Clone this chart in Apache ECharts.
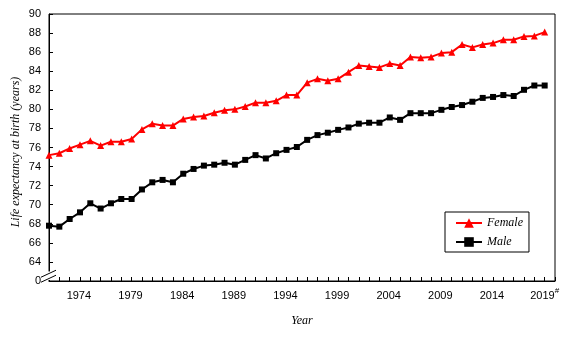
<!DOCTYPE html>
<html>
<head>
<meta charset="utf-8">
<script src="https://cdn.jsdelivr.net/npm/echarts@6/dist/echarts.min.js"></script>
<style>
  html, body { margin: 0; padding: 0; background: #fff; }
  #chart { width: 575px; height: 337px; }
</style>
</head>
<body>
<div id="chart"></div>
<script>
// Life expectancy at birth, 1971-2019
const years = [];
for (let y = 1971; y <= 2019; y++) years.push(y);

const female = [
  75.2, 75.4, 75.9, 76.3, 76.7, 76.2, 76.6, 76.6, 76.9, 77.9,
  78.5, 78.3, 78.3, 79.0, 79.2, 79.3, 79.65, 79.9, 80.0, 80.3,
  80.7, 80.7, 80.9, 81.5, 81.5, 82.8, 83.2, 83.0, 83.2, 83.9,
  84.6, 84.5, 84.4, 84.8, 84.6, 85.5, 85.4, 85.5, 85.9, 86.0,
  86.8, 86.5, 86.8, 86.95, 87.3, 87.3, 87.65, 87.7, 88.1
];
const male = [
  67.8, 67.7, 68.5, 69.2, 70.15, 69.6, 70.15, 70.6, 70.6, 71.6,
  72.35, 72.6, 72.35, 73.25, 73.75, 74.1, 74.2, 74.4, 74.2, 74.7,
  75.2, 74.85, 75.4, 75.75, 76.05, 76.8, 77.3, 77.55, 77.85, 78.1,
  78.5, 78.6, 78.6, 79.15, 78.9, 79.6, 79.6, 79.6, 79.95, 80.25,
  80.45, 80.8, 81.2, 81.3, 81.5, 81.4, 82.05, 82.5, 82.5
];
const xLabelYears = [1974, 1979, 1984, 1989, 1994, 1999, 2004, 2009, 2014, 2019];
const seriesNames = ['Female', 'Male'];

const pair = arr => years.map((y, i) => [y, arr[i]]);

const labelFont = 'Liberation Sans, Arial, sans-serif';
const serifFont = 'Liberation Serif, Times New Roman, serif';

const chart = echarts.init(document.getElementById('chart'), null, { renderer: 'canvas' });

const option = {
  animation: false,
  backgroundColor: '#fff',
  grid: {
    left: 49, right: 20, top: 14, bottom: 56,
    show: true, borderColor: '#000', borderWidth: 1, backgroundColor: 'transparent'
  },
  legend: {
    data: seriesNames,
    orient: 'vertical',
    left: 445, top: 212,
    padding: [5, 6, 4, 10],
    itemGap: 7,
    itemWidth: 26, itemHeight: 12,
    borderColor: '#000', borderWidth: 1,
    backgroundColor: '#fff',
    textStyle: { fontFamily: serifFont, fontStyle: 'italic', fontSize: 12, color: '#000' }
  },
  xAxis: {
    type: 'value',
    min: 1971, max: 2020, interval: 1,
    name: 'Year',
    nameLocation: 'middle',
    nameGap: 34,
    nameTextStyle: { fontFamily: serifFont, fontStyle: 'italic', fontSize: 12, color: '#000' },
    splitLine: { show: false },
    axisLine: { lineStyle: { color: '#000', width: 1 } },
    axisTick: { inside: true, length: 4, lineStyle: { color: '#000' } },
    axisLabel: {
      margin: 6,
      fontFamily: labelFont, fontSize: 11, color: '#000',
      showMinLabel: true, showMaxLabel: true,
      formatter: v => {
        if (xLabelYears.indexOf(v) < 0) return '';
        return v === 2019 ? '{n|' + v + '}{s|#}' : '{n|' + v + '}{s| }';
      },
      rich: {
        n: { fontSize: 11, fontFamily: labelFont, color: '#000', lineHeight: 14, verticalAlign: 'bottom' },
        s: { fontSize: 8, fontFamily: labelFont, color: '#000', lineHeight: 14, verticalAlign: 'top' }
      }
    }
  },
  yAxis: {
    type: 'value',
    min: 62, max: 90, interval: 2,
    splitLine: { show: false },
    axisLine: { lineStyle: { color: '#000', width: 1 } },
    axisTick: { inside: true, length: 4, lineStyle: { color: '#000' } },
    axisLabel: {
      margin: 8,
      fontFamily: labelFont, fontSize: 11, color: '#000',
      formatter: v => (v === 62 ? '0' : String(v))
    }
  },
  series: [
    {
      name: seriesNames[0], type: 'line', data: pair(female),
      symbol: 'triangle', symbolSize: 7,
      itemStyle: { color: '#ff0000' },
      lineStyle: { color: '#ff0000', width: 2 },
      z: 3
    },
    {
      name: seriesNames[1], type: 'line', data: pair(male),
      symbol: 'rect', symbolSize: 6,
      itemStyle: { color: '#000' },
      lineStyle: { color: '#000', width: 2 },
      z: 2
    }
  ]
};
chart.setOption(option);

// Axis break on the value axis between 0 and 64
const xL = chart.convertToPixel({ xAxisIndex: 0 }, 1971);
const yTop = chart.convertToPixel({ yAxisIndex: 0 }, 63.0);
const yBot = chart.convertToPixel({ yAxisIndex: 0 }, 62.0);
const mid = (yTop + yBot) / 2;
chart.setOption({
  graphic: [
    {
      type: 'rect', silent: true, z: 100,
      shape: { x: xL - 2, y: yTop, width: 4, height: yBot - yTop - 1 },
      style: { fill: '#fff' }
    },
    {
      type: 'line', silent: true, z: 101,
      shape: { x1: xL - 8, y1: mid + 1, x2: xL + 7, y2: mid - 6 },
      style: { stroke: '#000', lineWidth: 1 }
    },
    {
      type: 'line', silent: true, z: 101,
      shape: { x1: xL - 8, y1: mid + 6, x2: xL + 7, y2: mid - 1 },
      style: { stroke: '#000', lineWidth: 1 }
    },
    {
      type: 'text', silent: true, z: 101,
      x: 16, y: 152, rotation: Math.PI / 2,
      style: {
        text: 'Life expectancy at birth (years)',
        fontFamily: serifFont, fontStyle: 'italic', fontSize: 12, fill: '#000',
        align: 'center', verticalAlign: 'middle'
      }
    }
  ]
});
</script>
</body>
</html>
